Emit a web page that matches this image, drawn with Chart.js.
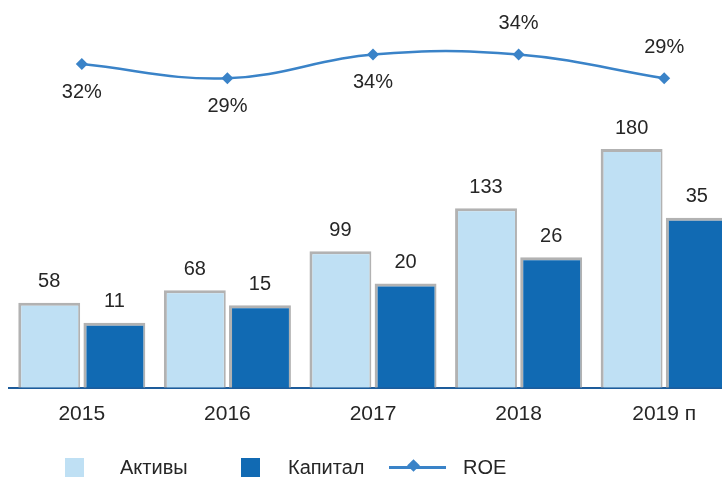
<!DOCTYPE html>
<html>
<head>
<meta charset="utf-8">
<script src="https://cdn.jsdelivr.net/npm/chart.js@4.4.1/dist/chart.umd.min.js"></script>
<style>
  html, body { margin: 0; padding: 0; background: #fff; overflow: hidden; }
  #wrap { position: relative; width: 740px; height: 478px; }
  .lg { position: absolute; font-family: "Liberation Sans", Arial, sans-serif; font-size: 20px; color: #262626; top: 456px; line-height: 22px; }
  .sq { position: absolute; top: 458px; width: 19px; height: 19px; }
  .ln { position: absolute; top: 466px; left: 389px; width: 57px; height: 2.5px; background: #3a83c8; }
  .dm { position: absolute; top: 461px; left: 409px; width: 9px; height: 9px; background: #3a83c8; transform: rotate(45deg); }
</style>
</head>
<body>
<div id="wrap">
  <canvas id="canvas" width="740" height="478"></canvas>
  <div class="sq" style="left:65px; background:#bfe0f4;"></div>
  <div class="lg" style="left:120px;">Активы</div>
  <div class="sq" style="left:241px; background:#116ab3;"></div>
  <div class="lg" style="left:288px;">Капитал</div>
  <div class="ln"></div>
  <div class="dm"></div>
  <div class="lg" style="left:463px;">ROE</div>
</div>
<script>
var years = ['2015', '2016', '2017', '2018', '2019 п'];
var assets = [58, 68, 99, 133, 180];
var capital = [11, 15, 20, 26, 35];
var roe = [32, 29, 34, 34, 29];

// where the ROE labels sit relative to the points
var roeLabelSide = ['below', 'below', 'below', 'above', 'above'];

var txtColor = '#262626';
var fontFamily = '"Liberation Sans", Arial, sans-serif';

// axis ranges (axes are hidden, bars start at the axis bottom)
var assetsMin = -9.5, assetsMax = 298.4;
var capMin = -3.86, capMax = 84.8;
var roeMin = -36.2, roeMax = 45.5;

var valueLabels = {
    id: 'valueLabels',
    afterDatasetsDraw: function(chart) {
        var ctx = chart.ctx;
        ctx.save();
        ctx.font = '20px ' + fontFamily;
        ctx.fillStyle = txtColor;
        ctx.textAlign = 'center';
        ctx.textBaseline = 'middle';
        [0, 1].forEach(function(di) {
            chart.getDatasetMeta(di).data.forEach(function(bar, i) {
                ctx.fillText(chart.data.datasets[di].data[i], bar.x, bar.y - 21);
            });
        });
        chart.getDatasetMeta(2).data.forEach(function(pt, i) {
            var dy = roeLabelSide[i] === 'above' ? -31 : 28;
            ctx.fillText(roe[i] + '%', pt.x, pt.y + dy);
        });
        ctx.restore();
    }
};

try {
    var ctx = document.getElementById('canvas').getContext('2d');

    var myChart = new Chart(ctx, {
        data: {
            labels: years,
            datasets: [{
                type: 'bar',
                label: 'Активы',
                data: assets,
                yAxisID: 'yA',
                base: assetsMin,
                backgroundColor: '#bfe0f4',
                borderColor: '#b2b2b2',
                borderWidth: {top: 3, left: 3, right: 2, bottom: 0},
                borderSkipped: false,
                barPercentage: 0.95,
                categoryPercentage: 0.895,
                order: 2
            }, {
                type: 'bar',
                label: 'Капитал',
                data: capital,
                yAxisID: 'yC',
                base: capMin,
                backgroundColor: '#116ab3',
                borderColor: '#b2b2b2',
                borderWidth: {top: 3, left: 3, right: 2, bottom: 0},
                borderSkipped: false,
                barPercentage: 0.95,
                categoryPercentage: 0.895,
                order: 2
            }, {
                type: 'line',
                label: 'ROE',
                data: roe,
                yAxisID: 'yR',
                borderColor: '#3a83c8',
                backgroundColor: '#3a83c8',
                borderWidth: 2.5,
                tension: 0.4,
                fill: false,
                pointStyle: 'rectRot',
                pointRadius: 6,
                pointBorderWidth: 0,
                order: 1
            }]
        },
        options: {
            responsive: false,
            animation: false,
            layout: {
                autoPadding: false,
                padding: {left: 9, right: 3, top: 0, bottom: 45}
            },
            plugins: {
                legend: {display: false},
                tooltip: {enabled: false}
            },
            scales: {
                x: {
                    offset: true,
                    grid: {display: false},
                    border: {display: true, color: '#1d5c9b', width: 2},
                    ticks: {color: txtColor, padding: 6, font: {family: fontFamily, size: 21}}
                },
                yA: {display: false, min: assetsMin, max: assetsMax},
                yC: {display: false, min: capMin, max: capMax},
                yR: {display: false, min: roeMin, max: roeMax}
            }
        },
        plugins: [valueLabels]
    });
} catch (e) {
    console.log(e.message);
}
</script>
</body>
</html>
